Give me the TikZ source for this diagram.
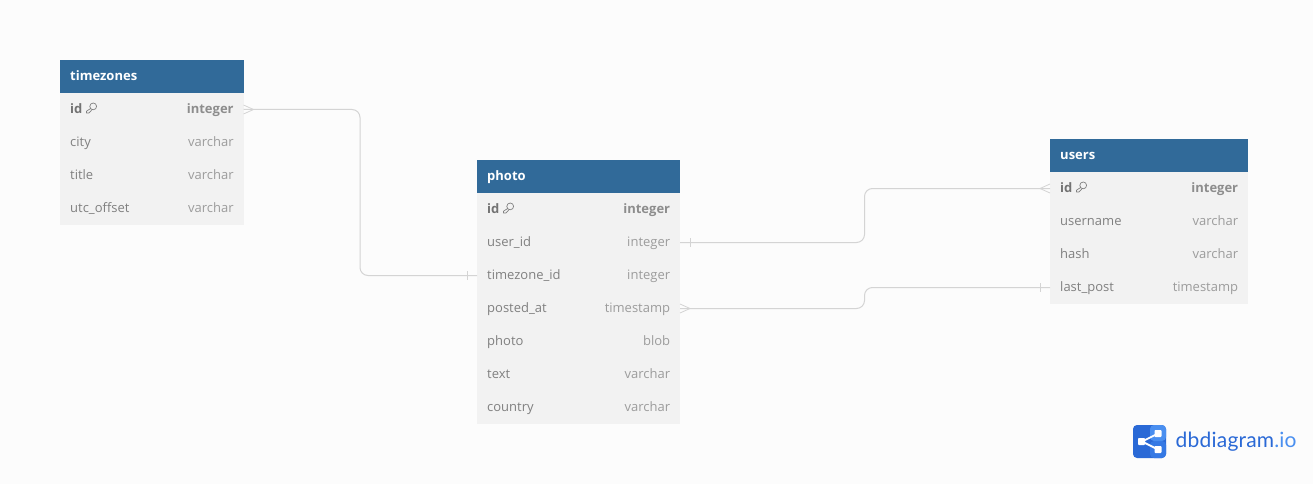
\documentclass[tikz,border=0pt]{standalone}
\usepackage{fontspec}
\setmainfont{Open Sans}
\newfontfamily\logofont[LetterSpace=1.0]{Lato}
\usetikzlibrary{calc}
\definecolor{bgc}{HTML}{FCFCFC}
\definecolor{rowc}{HTML}{F2F2F2}
\definecolor{headc}{HTML}{316A99}
\definecolor{namec}{HTML}{808080}
\definecolor{typec}{HTML}{9C9C9C}
\definecolor{linkc}{HTML}{D4D4D4}
\definecolor{logoa}{HTML}{2A69D6}
\definecolor{logob}{HTML}{4A8FF0}
\definecolor{logoc}{HTML}{3579E4}
\tikzset{
  x=1pt,y=-1pt,
  header/.style={draw=none,fill=headc,anchor=north west,minimum height=33pt,inner sep=0pt,outer sep=0pt},
  rowbox/.style={draw=none,fill=rowc,anchor=north west,minimum height=33pt,inner sep=0pt,outer sep=0pt},
  headtext/.style={text=white,font=\fontsize{13}{15}\selectfont\bfseries,anchor=base west,inner sep=0pt},
  fname/.style={text=namec,font=\fontsize{13}{15}\selectfont,anchor=base west,inner sep=0pt},
  ftype/.style={text=typec,font=\fontsize{13}{15}\selectfont,anchor=base east,inner sep=0pt},
  fnamepk/.style={fname,font=\fontsize{13}{15}\selectfont\bfseries,text=namec!90!black},
  ftypepk/.style={ftype,font=\fontsize{13}{15}\selectfont\bfseries,text=typec!90!black},
  link/.style={draw=linkc,line width=1pt,rounded corners=8pt},
  crowmark/.style={draw=linkc,line width=0.8pt},
  keyicon/.style={draw=namec,line width=0.7pt,line join=round},
}
% \tablerow{prefix}{row id}{x}{y}{width}{name}{type}
\newcommand{\tablerow}[7]{%
  \node[rowbox,minimum width=#5pt] (#1-#2) at (#3,#4) {};
  \node[fname] (#1-#2-n) at ($(#1-#2.west)+(10,4)$) {#6};
  \node[ftype] (#1-#2-t) at ($(#1-#2.east)+(-9.7,4)$) {#7};
}
\newcommand{\pkrow}[5]{%
  \node[rowbox,minimum width=#4pt] (#1-id) at (#2,#3) {};
  \node[fnamepk] (#1-id-n) at ($(#1-id.west)+(10,4)$) {id};
  \node[ftypepk] (#1-id-t) at ($(#1-id.east)+(-9.7,4)$) {#5};
  \begin{scope}[shift={($(#1-id.west)+(26.5,3.5)$)}]
    \draw[keyicon] (4.3,-4.6) -- (0,-1.8) -- (0,0) -- (2.4,0) -- (5.6,-3.4);
    \draw[keyicon] (6.7,-6.6) circle[radius=3.4pt];
  \end{scope}
}
\begin{document}
\begin{tikzpicture}
\useasboundingbox (0,0) rectangle (1313,484);
\fill[bgc] (0,0) rectangle (1313,484);

\coordinate (tzbend) at (360,0);
\coordinate (ubend) at (864.5,0);

% timezones
\node[header,minimum width=183.5pt] (tz) at (60,60) {};
\node[headtext] (tz-title) at ($(tz.west)+(10,4)$) {timezones};
\pkrow{tz}{60}{93}{183.5}{integer}
\tablerow{tz}{city}{60}{126}{183.5}{city}{varchar}
\tablerow{tz}{title}{60}{159}{183.5}{title}{varchar}
\tablerow{tz}{off}{60}{192}{183.5}{utc\_offset}{varchar}

% photo
\node[header,minimum width=203pt] (ph) at (477,160) {};
\node[headtext] (ph-title) at ($(ph.west)+(10,4)$) {photo};
\pkrow{ph}{477}{193}{203}{integer}
\tablerow{ph}{user}{477}{226}{203}{user\_id}{integer}
\tablerow{ph}{tz}{477}{259}{203}{timezone\_id}{integer}
\tablerow{ph}{posted}{477}{292}{203}{posted\_at}{timestamp}
\tablerow{ph}{photo}{477}{325}{203}{photo}{blob}
\tablerow{ph}{text}{477}{358}{203}{text}{varchar}
\tablerow{ph}{country}{477}{391}{203}{country}{varchar}

% users
\node[header,minimum width=198pt] (us) at (1050,139) {};
\node[headtext] (us-title) at ($(us.west)+(10,4)$) {users};
\pkrow{us}{1050}{172}{198}{integer}
\tablerow{us}{username}{1050}{205}{198}{username}{varchar}
\tablerow{us}{hash}{1050}{238}{198}{hash}{varchar}
\tablerow{us}{last}{1050}{271}{198}{last\_post}{timestamp}

% connectors
\draw[link] (tz-id.east) -- (tzbend |- tz-id.east) -- (tzbend |- ph-tz.west) -- (ph-tz.west);
\draw[link] (ph-user.east) -- (ubend |- ph-user.east) -- (ubend |- us-id.west) -- (us-id.west);
\draw[link] (ph-posted.east) -- (ubend |- ph-posted.east) -- (ubend |- us-last.west) -- (us-last.west);

% crow's feet
\draw[crowmark] ($(tz-id.east)+(0,-4.5)$) -- ($(tz-id.east)+(10,0)$) -- ($(tz-id.east)+(0,4.5)$);
\draw[crowmark] ($(ph-posted.east)+(0,-4.5)$) -- ($(ph-posted.east)+(10,0)$) -- ($(ph-posted.east)+(0,4.5)$);
\draw[crowmark] ($(us-id.west)+(0,-4.5)$) -- ($(us-id.west)+(-10,0)$) -- ($(us-id.west)+(0,4.5)$);
% bars
\draw[crowmark] ($(ph-tz.west)+(-10,-4.5)$) -- ($(ph-tz.west)+(-10,4.5)$);
\draw[crowmark] ($(ph-user.east)+(10,-4.5)$) -- ($(ph-user.east)+(10,4.5)$);
\draw[crowmark] ($(us-last.west)+(-10,-4.5)$) -- ($(us-last.west)+(-10,4.5)$);

% logo
\fill[logoa,rounded corners=4pt] (1133,425) rectangle (1166,458);
\fill[logoc,rounded corners=4pt] (1150,441) -- (1166,441) -- (1166,458) -- (1150,458) -- cycle;
\fill[logob,rounded corners=4pt] (1150,425) -- (1166,425) -- (1166,441) -- (1150,441) -- cycle;
\draw[white,line width=1.8pt] (1142,441.5) -- (1158,433.5) (1142,441.5) -- (1158,449.5);
\fill[white,rounded corners=0.8pt] (1138,438) rectangle (1145,445);
\fill[white,rounded corners=0.8pt] (1154.5,430) rectangle (1161.5,437);
\fill[white,rounded corners=0.8pt] (1154.5,446) rectangle (1161.5,453);
\node[anchor=west,inner sep=0pt,font=\logofont\fontsize{21}{24}\selectfont,text=logoa] (logo) at (1175.5,441.5) {dbdiagram\textcolor{logob}{.io}};
\end{tikzpicture}
\end{document}
